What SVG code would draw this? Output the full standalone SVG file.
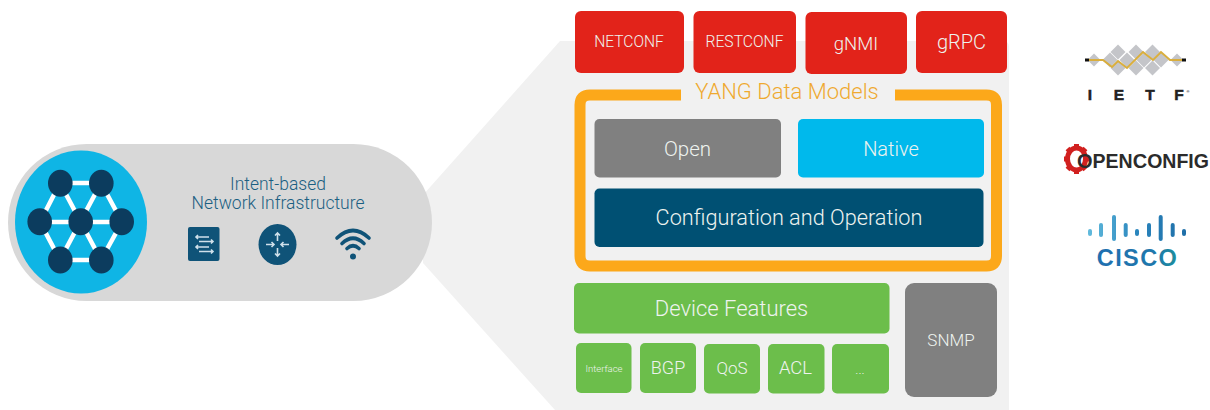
<svg xmlns="http://www.w3.org/2000/svg" width="1210" height="410" viewBox="0 0 1210 410">
<style>
text{font-family:Roboto,"Liberation Sans",sans-serif;font-weight:300;text-anchor:middle}
text.b{font-family:"Liberation Sans",Arial,sans-serif;font-weight:700}
text.st{text-anchor:start}
.w{fill:#eef3ef}
.red{fill:#e2231a}.gr{fill:#6cbe4b}.gy{fill:#808080}
.hub{fill:#0c3c5e}
.lk{stroke:#fff;stroke-width:4.5;fill:none}
.dm{fill:#c4c5c9}
.ic{fill:none;stroke:#cfe0ea;stroke-width:1.6}
.ck{fill:none;stroke-width:4;stroke-linecap:round}
</style>
<defs>
<linearGradient id="bars" gradientUnits="userSpaceOnUse" x1="1088" y1="0" x2="1186" y2="0"><stop offset="0" stop-color="#62bbdd"/><stop offset=".5" stop-color="#2a85bd"/><stop offset="1" stop-color="#1f6fa8"/></linearGradient>
<linearGradient id="word" gradientUnits="userSpaceOnUse" x1="1098" y1="0" x2="1178" y2="0"><stop offset="0" stop-color="#1f6fb0"/><stop offset=".7" stop-color="#1f78ac"/><stop offset="1" stop-color="#1d8f9c"/></linearGradient>
</defs>
<rect width="1210" height="410" fill="#fff"/>
<path id="zoom-panel" d="M423 195L560 41H1003Q1009 41 1009 47V410H555L423 263Z" fill="#f1f1f1"/>
<g id="infrastructure">
<rect x="8" y="144" width="424" height="157" rx="78.5" fill="#d8d8d8"/>
<ellipse cx="81" cy="222" rx="66" ry="71.5" fill="#0fb5e5"/>
<path class="lk" d="M60 183H101M40 222H122M60 260H101M60 183L40 222L60 260M101 183L122 222L101 260M60 183L101 260M60 260L101 183"/>
<g class="hub">
<ellipse cx="60.300" cy="183.300" rx="12.300" ry="13.500"/><ellipse cx="101.300" cy="183.300" rx="12.300" ry="13.500"/>
<ellipse cx="39.700" cy="221.700" rx="12.300" ry="13.500"/><ellipse cx="80.700" cy="221.700" rx="12.300" ry="13.500"/><ellipse cx="121.700" cy="221.700" rx="12.300" ry="13.500"/>
<ellipse cx="60.300" cy="260" rx="12.300" ry="13.500"/><ellipse cx="101.300" cy="260" rx="12.300" ry="13.500"/>
</g>
<text x="278" y="190" font-size="17.500" fill="#1b5f82">Intent-based</text>
<text x="278" y="209" font-size="17.500" fill="#1b5f82">Network Infrastructure</text>
<rect x="188" y="227" width="31.500" height="34" rx="2" fill="#0f5378"/>
<path class="ic" d="M196 237H209M198 235L196 237L198 239M199 241.500H213M211 239.500L213 241.500L211 243.500M196 247H209M198 245L196 247L198 249M199 251.500H213M211 249.500L213 251.500L211 253.500"/>
<ellipse cx="277.500" cy="244.500" rx="19" ry="20.500" fill="#0f5378"/>
<path class="ic" d="M277.500 233V241M275 235.500L277.500 233L280 235.500M277.500 256V248M275 253.500L277.500 256L280 253.500M266 244.500H274M271.500 242L274 244.500L271.500 247M289 244.500H281M283.500 242L281 244.500L283.500 247"/>
<g fill="none" stroke="#0f5378" stroke-width="3.600" stroke-linecap="round">
<path d="M337 238Q353 223 369 238"/><path d="M342 243.500Q353 233 364 243.500"/><path d="M347 248.500Q353 243 359 248.500"/>
</g>
<circle cx="353" cy="256.500" r="3" fill="#0f5378"/>
</g>
<g id="protocols">
<g id="netconf"><rect class="red" x="575" y="11" width="109" height="62" rx="6"/><text class="w" x="629" y="47" font-size="15.600">NETCONF</text></g>
<g id="restconf"><rect class="red" x="693.500" y="11" width="102.500" height="62" rx="6"/><text class="w" x="744.500" y="47" font-size="15.700">RESTCONF</text></g>
<g id="gnmi"><rect class="red" x="805.500" y="12" width="101.500" height="62" rx="6"/><text class="w" x="856" y="50" font-size="18.500">gNMI</text></g>
<g id="grpc"><rect class="red" x="916" y="11" width="91" height="62" rx="6"/><text class="w" x="961.500" y="49" font-size="20">gRPC</text></g>
</g>
<g id="yang">
<path d="M681 95H590Q580 95 580 105V256Q580 266 590 266H986.500Q996.500 266 996.500 256V105Q996.500 95 986.500 95H895" fill="none" stroke="#fca81a" stroke-width="11"/>
<text x="787" y="99" font-size="22" fill="#efa92f">YANG Data Models</text>
<g id="open"><rect class="gy" x="594.500" y="119" width="186.500" height="58.500" rx="5"/><text class="w" x="687.500" y="156" font-size="20.500">Open</text></g>
<g id="native"><rect x="798" y="119" width="186" height="58.500" rx="5" fill="#00b9ec"/><text class="w" x="891" y="156" font-size="20">Native</text></g>
<g id="config"><rect x="594.500" y="188.500" width="389" height="58.500" rx="5" fill="#005073"/><text class="w" x="789" y="225" font-size="21.700">Configuration and Operation</text></g>
</g>
<g id="features">
<g id="device-features"><rect class="gr" x="574" y="283" width="315.500" height="50.500" rx="5"/><text class="w" x="731.500" y="316" font-size="22">Device Features</text></g>
<g id="interface"><rect class="gr" x="576" y="343" width="55.500" height="50" rx="5"/><text class="w" x="604" y="372" font-size="9.500">Interface</text></g>
<g id="bgp"><rect class="gr" x="640" y="343" width="56" height="50" rx="5"/><text class="w" x="668" y="374" font-size="18">BGP</text></g>
<g id="qos"><rect class="gr" x="704" y="344" width="56" height="49.500" rx="5"/><text class="w" x="732" y="374" font-size="17">QoS</text></g>
<g id="acl"><rect class="gr" x="768" y="344" width="56.500" height="49.500" rx="5"/><text class="w" x="795.500" y="374" font-size="18.500">ACL</text></g>
<g id="more"><rect class="gr" x="832" y="344" width="57" height="49.500" rx="5"/><text class="w" x="860" y="374" font-size="13">...</text></g>
</g>
<g id="snmp"><rect class="gy" x="905" y="283" width="92" height="114" rx="9"/><text class="w" x="951" y="346" font-size="17">SNMP</text></g>
<g id="ietf-logo">
<g class="dm">
<path d="M1118 44.500l7.500 7.500l-7.500 7.500l-7.500-7.500Z"/><path d="M1136 44.500l7.500 7.500l-7.500 7.500l-7.500-7.500Z"/><path d="M1152.500 44.500l7.500 7.500l-7.500 7.500l-7.500-7.500Z"/>
<path d="M1110 52.500l7.500 7.500l-7.500 7.500l-7.500-7.500Z"/><path d="M1127 52.500l7.500 7.500l-7.500 7.500l-7.500-7.500Z"/><path d="M1144 52.500l7.500 7.500l-7.500 7.500l-7.500-7.500Z"/><path d="M1161 52.500l7.500 7.500l-7.500 7.500l-7.500-7.500Z"/>
<path d="M1118 60.500l7.500 7.500l-7.500 7.500l-7.500-7.500Z"/><path d="M1136 60.500l7.500 7.500l-7.500 7.500l-7.500-7.500Z"/><path d="M1152.500 60.500l7.500 7.500l-7.500 7.500l-7.500-7.500Z"/>
<path d="M1094 53.500l6.500 6.500l-6.500 6.500l-6.500-6.500Z"/><path d="M1177 53.500l6.500 6.500l-6.500 6.500l-6.500-6.500Z"/>
</g>
<path d="M1089 60H1103L1112 67L1118 61L1127 68L1143 52L1153 60L1161 52L1170 60H1182" fill="none" stroke="#d9ae3d" stroke-width="2"/>
<path d="M1085 60H1089M1182 60H1186" stroke="#111" stroke-width="3"/>
<g font-size="15.500" fill="#222" stroke="#222" stroke-width=".5">
<text class="b" x="1090" y="100">I</text><text class="b" x="1119" y="100">E</text><text class="b" x="1150" y="100">T</text><text class="b" x="1179" y="100">F</text>
</g>
<text class="b" x="1188" y="93" font-size="4" fill="#222">®</text>
</g>
<g id="openconfig-logo">
<path d="M1076.500 144V174M1064 159H1089M1067.500 148.500L1085.500 169.500M1067.500 169.500L1085.500 148.500" stroke="#d1201f" stroke-width="5"/>
<ellipse cx="1076.500" cy="159" rx="9" ry="11" fill="#fff" stroke="#d1201f" stroke-width="5"/>
<text class="b st" x="1077" y="168" fill="#2b2b2b" font-size="19.500"><tspan font-size="20">O</tspan>PEN<tspan font-size="20">C</tspan>ONFIG</text>
</g>
<g id="cisco-logo">
<g class="ck" stroke="url(#bars)">
<path d="M1090 231V234.010"/><path d="M1101 225V235"/><path d="M1114 217V239"/><path d="M1125.700 225V235"/><path d="M1137 231V234.010"/><path d="M1149 225V235"/><path d="M1160.700 217V239"/><path d="M1172.700 225V235"/><path d="M1184 231V234.010"/>
</g>
<text class="b" x="1137.500" y="265.500" font-size="23.500" fill="url(#word)" letter-spacing="1.400">CISCO</text>
</g>
</svg>
